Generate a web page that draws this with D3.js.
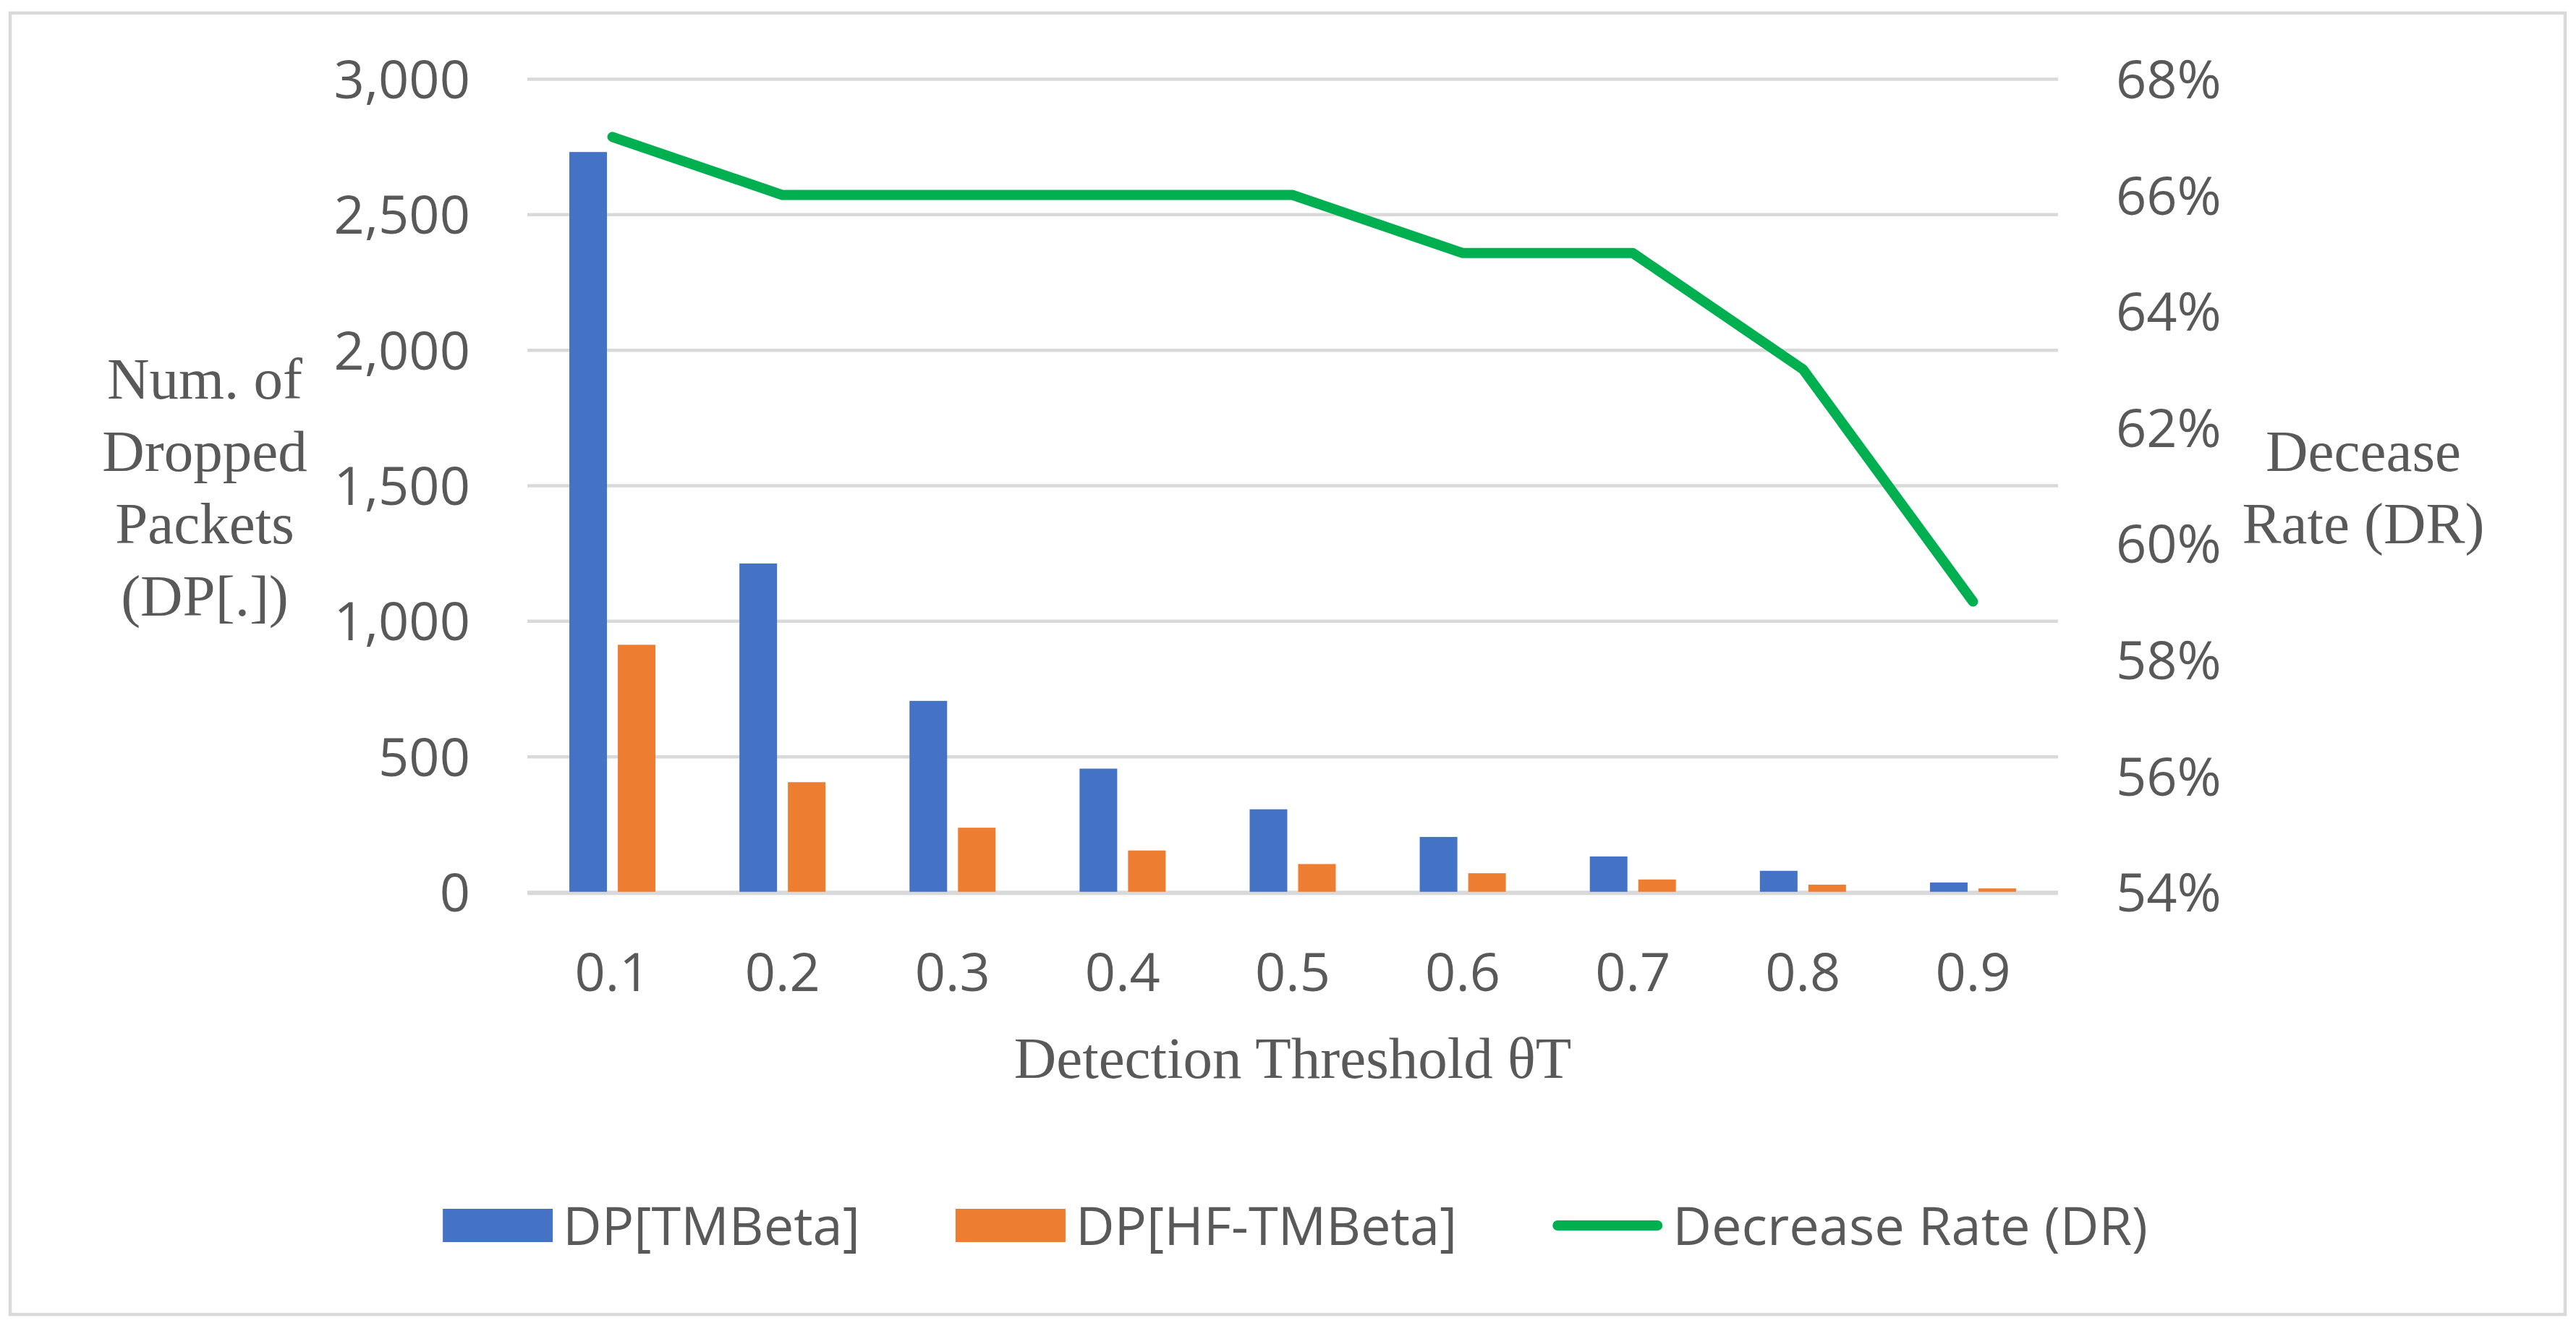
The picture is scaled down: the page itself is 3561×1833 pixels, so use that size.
<!DOCTYPE html>
<html>
<head>
<meta charset="utf-8">
<script src="https://cdn.jsdelivr.net/npm/d3@7"></script>
<style>
    body { margin: 0; background: #fff; }
    .tick text { fill: #595959; font-family: "Open Sans", sans-serif; font-size: 74px; }
    .axis-title { fill: #595959; font-family: "Liberation Serif", serif; font-size: 81px; }
    .legend text { fill: #595959; font-family: "Open Sans", sans-serif; font-size: 74px; }
</style>
</head>
<body>
<div id="chart"></div>
<script>
// Chart data
const categories = ['0.1', '0.2', '0.3', '0.4', '0.5', '0.6', '0.7', '0.8', '0.9'];
const dpTMBeta = [2730, 1212, 705, 455, 305, 203, 131, 78, 35];
const dpHFTMBeta = [912, 405, 237, 153, 103, 69, 46, 27, 13];
const decreaseRate = [0.67, 0.66, 0.66, 0.66, 0.66, 0.65, 0.65, 0.63, 0.59];
const leftTicks = [0, 500, 1000, 1500, 2000, 2500, 3000];
const rightTicks = [0.54, 0.56, 0.58, 0.60, 0.62, 0.64, 0.66, 0.68];
const seriesNames = ['DP[TMBeta]', 'DP[HF-TMBeta]', 'Decrease Rate (DR)'];
const seriesColors = ['#4472C4', '#ED7D31', '#00B050'];

function drawChart() {
    var totalW = 3561, totalH = 1833;
    var margin = {top: 109, right: totalW - 2845, bottom: totalH - 1233, left: 729};
    var width = totalW - margin.left - margin.right;
    var height = totalH - margin.top - margin.bottom;

    var svg = d3.select('#chart').append('svg')
        .attr('width', totalW)
        .attr('height', totalH);

    // outer frame
    svg.append('rect')
        .attr('x', 14).attr('y', 18)
        .attr('width', 3546 - 14).attr('height', 1817 - 18)
        .attr('fill', '#fff')
        .attr('stroke', '#D9D9D9')
        .attr('stroke-width', 4.5);

    var g = svg.append('g')
        .attr('transform', 'translate(' + margin.left + ',' + margin.top + ')');

    // scales
    var x = d3.scaleBand().domain(categories).range([0, width]);
    var xSub = d3.scaleBand().domain([0, 1])
        .range([x.bandwidth() / 2 - 59.5, x.bandwidth() / 2 + 59.5])
        .paddingInner(0.224);
    var y = d3.scaleLinear().domain([0, 3000]).range([height, 0]);
    var y2 = d3.scaleLinear().domain([0.54, 0.68]).range([height, 0]);

    // left axis with gridlines
    var yAxis = g.append('g')
        .attr('class', 'axis axis--y')
        .call(d3.axisLeft(y).tickValues(leftTicks).tickSize(-width).tickPadding(79)
            .tickFormat(d3.format(',')));
    yAxis.select('.domain').remove();
    yAxis.selectAll('.tick line').attr('stroke', '#D9D9D9').attr('stroke-width', 4.5);
    yAxis.selectAll('.tick text').attr('dy', '0.36em');

    // right axis (labels only)
    var y2Axis = g.append('g')
        .attr('class', 'axis axis--y2')
        .attr('transform', 'translate(' + width + ',0)')
        .call(d3.axisRight(y2).tickValues(rightTicks).tickSize(0).tickPadding(80)
            .tickFormat(d3.format('.0%')));
    y2Axis.select('.domain').remove();
    y2Axis.selectAll('.tick text').attr('dy', '0.36em');

    // bottom axis
    var xAxis = g.append('g')
        .attr('class', 'axis axis--x')
        .attr('transform', 'translate(0,' + height + ')')
        .call(d3.axisBottom(x).tickSize(0));
    xAxis.select('.domain').remove();
    xAxis.selectAll('.tick text').attr('y', 137).attr('dy', null);

    // bars
    var barData = [dpTMBeta, dpHFTMBeta];
    barData.forEach(function(values, s) {
        g.append('g').selectAll('rect')
            .data(values).enter()
            .append('rect')
            .attr('x', function(d, i) { return x(categories[i]) + xSub(s); })
            .attr('y', function(d) { return y(d); })
            .attr('width', xSub.bandwidth())
            .attr('height', function(d) { return height - y(d); })
            .attr('fill', seriesColors[s]);
    });

    // baseline drawn over the bar bottoms
    g.append('line')
        .attr('x1', 0).attr('x2', width)
        .attr('y1', y(0) + 2).attr('y2', y(0) + 2)
        .attr('stroke', '#D9D9D9').attr('stroke-width', 4.5);

    // decrease rate line
    var line = d3.line()
        .x(function(d, i) { return x(categories[i]) + x.bandwidth() / 2; })
        .y(function(d) { return y2(d); });
    g.append('path')
        .datum(decreaseRate)
        .attr('d', line)
        .attr('fill', 'none')
        .attr('stroke', seriesColors[2])
        .attr('stroke-width', 14)
        .attr('stroke-linecap', 'round')
        .attr('stroke-linejoin', 'round');

    // axis titles
    var leftTitle = ['Num. of', 'Dropped', 'Packets', '(DP[.])'];
    svg.append('text').attr('class', 'axis-title')
        .attr('text-anchor', 'middle')
        .selectAll('tspan').data(leftTitle).enter()
        .append('tspan')
        .attr('x', 283)
        .attr('y', function(d, i) { return 551 + i * 100; })
        .text(function(d) { return d; });

    var rightTitle = ['Decease', 'Rate (DR)'];
    svg.append('text').attr('class', 'axis-title')
        .attr('text-anchor', 'middle')
        .selectAll('tspan').data(rightTitle).enter()
        .append('tspan')
        .attr('x', 3267)
        .attr('y', function(d, i) { return 651 + i * 100; })
        .text(function(d) { return d; });

    svg.append('text').attr('class', 'axis-title')
        .attr('text-anchor', 'middle')
        .attr('x', margin.left + width / 2)
        .attr('y', 1490)
        .text('Detection Threshold θT');

    // legend
    var legend = svg.append('g').attr('class', 'legend');
    var swW = 152, swGap = 14, itemGap = 132, legendY = 1694;
    var items = legend.selectAll('g').data(seriesNames).enter().append('g');
    items.each(function(d, i) {
        var item = d3.select(this);
        if (i < 2) {
            item.append('rect')
                .attr('x', 0).attr('y', legendY - 23)
                .attr('width', swW).attr('height', 46)
                .attr('fill', seriesColors[i]);
        } else {
            item.append('line')
                .attr('x1', 7).attr('x2', swW - 7)
                .attr('y1', legendY).attr('y2', legendY)
                .attr('stroke', seriesColors[i])
                .attr('stroke-width', 14)
                .attr('stroke-linecap', 'round');
        }
        item.append('text')
            .attr('x', swW + swGap)
            .attr('y', legendY)
            .attr('dy', '0.36em')
            .text(d);
    });
    // place items one after the other, centred on the plot
    var widths = [];
    items.each(function() { widths.push(this.getBBox().width); });
    var total = d3.sum(widths) + itemGap * (widths.length - 1);
    var cursor = margin.left + width / 2 - total / 2;
    items.attr('transform', function(d, i) {
        var t = 'translate(' + cursor + ',0)';
        cursor += widths[i] + itemGap;
        return t;
    });
}

document.addEventListener('DOMContentLoaded', function() {
    drawChart();
});
</script>
</body>
</html>
